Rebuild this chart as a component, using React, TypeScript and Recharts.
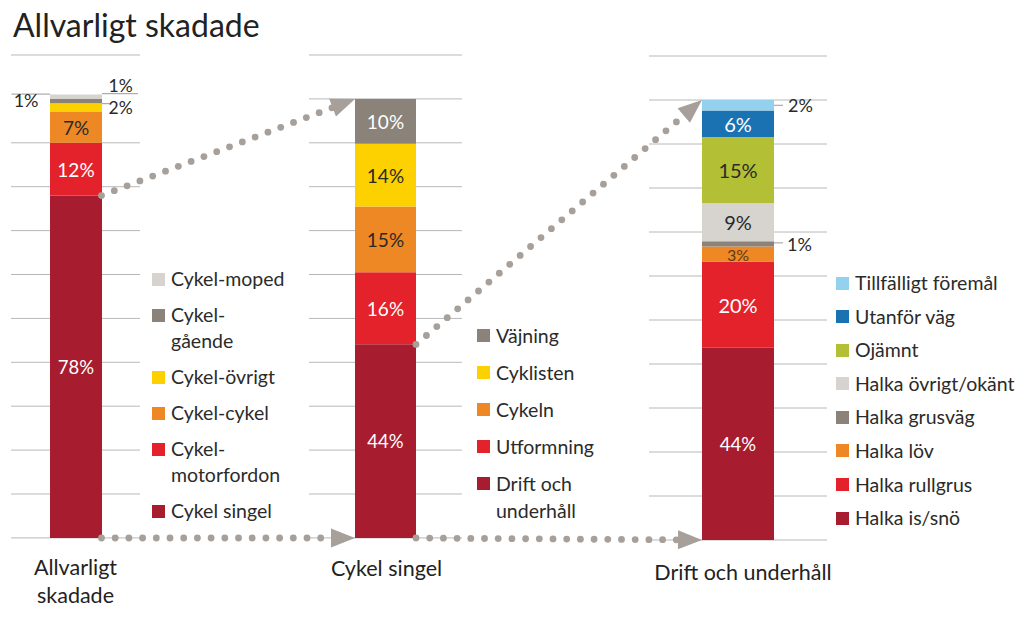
import React from 'react';
import { BarChart, Bar, XAxis, YAxis, CartesianGrid, LabelList } from 'recharts';

const FONT = 'Lato, "Open Sans", "DejaVu Sans", sans-serif';

// ---------- DATA ----------
const title = 'Allvarligt skadade';

// Bar 1
const category1 = 'Allvarligt\nskadade';
const series1 = ['Cykel singel', 'Cykel-motorfordon', 'Cykel-cykel', 'Cykel-övrigt', 'Cykel-gående', 'Cykel-moped'];
const values1 = [78, 12, 7, 2, 1, 1];
const legend1 = ['Cykel singel', 'Cykel-\nmotorfordon', 'Cykel-cykel', 'Cykel-övrigt', 'Cykel-\ngående', 'Cykel-moped'];

// Bar 2
const category2 = 'Cykel singel';
const series2 = ['Drift och underhåll', 'Utformning', 'Cykeln', 'Cyklisten', 'Väjning'];
const values2 = [44.1, 16.4, 15.0, 14.3, 10.2];
const legend2 = ['Drift och\nunderhåll', 'Utformning', 'Cykeln', 'Cyklisten', 'Väjning'];

// Bar 3
const category3 = 'Drift och underhåll';
const series3 = ['Halka is/snö', 'Halka rullgrus', 'Halka löv', 'Halka grusväg', 'Halka övrigt/okänt', 'Ojämnt', 'Utanför väg', 'Tillfälligt föremål'];
const values3 = [43.7, 19.6, 3.4, 1.2, 8.7, 15.0, 6.0, 2.4];
const legend3 = ['Halka is/snö', 'Halka rullgrus', 'Halka löv', 'Halka grusväg', 'Halka övrigt/okänt', 'Ojämnt', 'Utanför väg', 'Tillfälligt föremål'];

const gridTicks1 = [0, 10, 20, 30, 40, 50, 60, 70, 80, 90];
const gridTicks = [0, 10, 20, 30, 40, 50, 60, 70, 80, 90, 100];

// ---------- STYLES ----------
const C = {
  darkRed: '#a71d2f',
  red: '#e3222b',
  orange: '#ee8824',
  yellow: '#fdd100',
  gray: '#8b827a',
  lightGray: '#d7d3ce',
  lightBlue: '#93d1ef',
  blue: '#1a72b3',
  olive: '#b3bf35',
};
const colors1 = [C.darkRed, C.red, C.orange, C.yellow, C.gray, C.lightGray];
const colors2 = [C.darkRed, C.red, C.orange, C.yellow, C.gray];
const colors3 = [C.darkRed, C.red, C.orange, C.gray, C.lightGray, C.olive, C.blue, C.lightBlue];

type LabelCfg = { fill?: string; size?: number; side?: 'left' | 'right'; leader?: number; ldy?: number; tdx?: number; tdy?: number };
const W = '#ffffff';
const D = '#2a2a2a';
const labels1: LabelCfg[] = [
  { fill: W, size: 18.5 },
  { fill: W, size: 19 },
  { fill: D, size: 19 },
  { side: 'right', leader: 9, ldy: -4, tdx: 6.5, tdy: 0.2, size: 17.5 },
  { side: 'left', leader: 38.5, ldy: -7, tdx: 11.5, tdy: -1, size: 18 },
  { side: 'right', leader: 36, ldy: -3, tdx: 6.5, tdy: -10.8, size: 17.5 },
];
const labels2: LabelCfg[] = [
  { fill: W, size: 18.5 },
  { fill: W, size: 19 },
  { fill: D, size: 19 },
  { fill: D, size: 19 },
  { fill: W, size: 19 },
];
const labels3: LabelCfg[] = [
  { fill: W, size: 18.5 },
  { fill: W, size: 20 },
  { fill: '#5a3a1c', size: 16 },
  { side: 'right', leader: 9, ldy: -1, tdx: 13, tdy: 0, size: 18 },
  { fill: D, size: 20 },
  { fill: D, size: 20 },
  { fill: W, size: 20 },
  { side: 'right', leader: 9, ldy: 0, tdx: 14, tdy: 0, size: 18 },
];

const DOMAIN_MAX = 110;

type Panel = {
  key: string;
  category: string;
  series: string[];
  values: number[];
  legend: string[];
  colors: string[];
  labels: LabelCfg[];
  ticks: number[];
  left: number; top: number; width: number; height: number; barSize: number;
  legendLeft: number; legendTop: number; lineH: number; gap: number;
  catTop: number; catDx: number;
};

const panels: Panel[] = [
  {
    key: 'p1', category: category1, series: series1, values: values1, legend: legend1, colors: colors1, labels: labels1, ticks: gridTicks1,
    left: 11, top: 55.1, width: 129, height: 482.9, barSize: 52,
    legendLeft: 152, legendTop: 266, lineH: 26, gap: 10, catTop: 553, catDx: 0,
  },
  {
    key: 'p2', category: category2, series: series2, values: values2, legend: legend2, colors: colors2, labels: labels2, ticks: gridTicks,
    left: 309, top: 55.1, width: 153, height: 482.9, barSize: 61,
    legendLeft: 477, legendTop: 322, lineH: 27, gap: 10, catTop: 554, catDx: 1,
  },
  {
    key: 'p3', category: category3, series: series3, values: values3, legend: legend3, colors: colors3, labels: labels3, ticks: gridTicks,
    left: 649, top: 56, width: 178, height: 484, barSize: 72,
    legendLeft: 836, legendTop: 270, lineH: 26, gap: 7.6, catTop: 558, catDx: 5,
  },
];

const yPix = (p: Panel, v: number) => p.top + p.height * (1 - v / DOMAIN_MAX);
const barLeft = (p: Panel) => p.left + (p.width - p.barSize) / 2;
const barRight = (p: Panel) => barLeft(p) + p.barSize;
const total = (vals: number[]) => vals.reduce((a, b) => a + b, 0);

const makeLabel = (cfg: LabelCfg) => (props: any) => {
  const vb = props.viewBox && props.viewBox.width != null ? props.viewBox : props;
  const x = Number(vb.x), y = Number(vb.y), width = Number(vb.width), height = Number(vb.height);
  const value = Number(props.value);
  const txt = `${Math.round(value)}%`;
  const cx = x + width / 2;
  const cy = y + height / 2;
  const size = cfg.size ?? 18;
  if (!cfg.side) {
    return (
      <text x={cx} y={cy} textAnchor="middle" dominantBaseline="central" fill={cfg.fill} fontSize={size} fontFamily={FONT}>
        {txt}
      </text>
    );
  }
  const right = cfg.side === 'right';
  const edge = right ? x + width : x;
  const sgn = right ? 1 : -1;
  const ly = cy + (cfg.ldy ?? 0);
  return (
    <g>
      <line x1={edge} y1={ly} x2={edge + sgn * (cfg.leader ?? 8)} y2={ly} stroke="#9a9a9a" strokeWidth={1} />
      <text
        x={edge + sgn * (cfg.tdx ?? 8)}
        y={cy + (cfg.tdy ?? 0)}
        textAnchor={right ? 'start' : 'end'}
        dominantBaseline="central"
        fill="#2a2a2a"
        fontSize={size}
        fontFamily={FONT}
      >
        {txt}
      </text>
    </g>
  );
};

const PanelChart = ({ p }: { p: Panel }) => {
  const row: Record<string, any> = { name: p.category };
  p.series.forEach((s, i) => (row[s] = p.values[i]));
  const data = [row];
  return (
    <div style={{ position: 'absolute', left: p.left, top: p.top }}>
      <BarChart width={p.width} height={p.height} data={data} margin={{ top: 0, right: 0, bottom: 0, left: 0 }} barSize={p.barSize}>
        <CartesianGrid vertical={false} stroke="#b8b8b8" strokeWidth={1} />
        <XAxis dataKey="name" type="category" hide />
        <YAxis type="number" domain={[0, DOMAIN_MAX]} ticks={p.ticks} hide />
        {p.series.map((s, i) => (
          <Bar key={s} dataKey={s} stackId="a" fill={p.colors[i]} isAnimationActive={false}>
            <LabelList dataKey={s} content={makeLabel(p.labels[i])} />
          </Bar>
        ))}
      </BarChart>
    </div>
  );
};

const Legend = ({ p }: { p: Panel }) => {
  const items = p.legend.map((l, i) => ({ l, c: p.colors[i] })).reverse();
  return (
    <div style={{ position: 'absolute', left: p.legendLeft, top: p.legendTop, fontFamily: FONT, fontSize: 19.5, color: '#2b2b2b' }}>
      {items.map((it, i) => (
        <div key={i} style={{ display: 'flex', alignItems: 'flex-start', marginBottom: p.gap, lineHeight: `${p.lineH}px`, whiteSpace: 'nowrap' }}>
          <div style={{ width: 13, height: 13, background: it.c, marginTop: p.lineH / 2 - 6.5, marginRight: 6, flex: 'none' }} />
          <div style={{ whiteSpace: 'pre' }}>{it.l}</div>
        </div>
      ))}
    </div>
  );
};

const CategoryLabel = ({ p }: { p: Panel }) => {
  const cx = p.left + p.width / 2 + p.catDx;
  return (
    <div
      style={{
        position: 'absolute', left: cx - 120, width: 240, top: p.catTop, textAlign: 'center',
        fontFamily: FONT, fontSize: 21.5, lineHeight: '28px', color: '#222', whiteSpace: 'pre-line',
      }}
    >
      {p.category}
    </div>
  );
};

// arrows connect the top of a segment in one bar to the top of the next bar
const connections = [
  { from: 0, fromValue: values1[0], to: 1, toValue: total(values2) },
  { from: 0, fromValue: 0, to: 1, toValue: 0 },
  { from: 1, fromValue: values2[0], to: 2, toValue: total(values3) },
  { from: 1, fromValue: 0, to: 2, toValue: 0 },
];

const Arrow = ({ x1, y1, x2, y2 }: { x1: number; y1: number; x2: number; y2: number }) => {
  const dx = x2 - x1, dy = y2 - y1;
  const L = Math.hypot(dx, dy);
  const ux = dx / L, uy = dy / L;
  const headLen = 24, hw = 9.5, step = 13.7, r = 3.4;
  const dotsLen = L - headLen + 4;
  const n = Math.floor(dotsLen / step) + 1;
  const dots = [];
  for (let i = 0; i < n; i++) dots.push(<circle key={i} cx={x1 + ux * step * i} cy={y1 + uy * step * i} r={r} fill="#a7a09a" />);
  const bx = x2 - ux * headLen, by = y2 - uy * headLen;
  const pts = `${x2},${y2} ${bx - uy * hw},${by + ux * hw} ${bx + uy * hw},${by - ux * hw}`;
  return (
    <g>
      {dots}
      <polygon points={pts} fill="#a7a09a" />
    </g>
  );
};

export default function App() {
  return (
    <div style={{ position: 'absolute', left: 0, top: 0, width: 1024, height: 620, background: '#fff', overflow: 'hidden' }}>
      <style>{'svg{overflow:visible}'}</style>
      <div style={{ position: 'absolute', left: 13, top: 8.5, fontFamily: FONT, fontSize: 32, lineHeight: '32px', color: '#222' }}>{title}</div>
      {panels.map((p) => (
        <PanelChart key={p.key} p={p} />
      ))}
      {panels.map((p) => (
        <Legend key={'l' + p.key} p={p} />
      ))}
      {panels.map((p) => (
        <CategoryLabel key={'c' + p.key} p={p} />
      ))}
      <svg width={1024} height={620} style={{ position: 'absolute', left: 0, top: 0, pointerEvents: 'none' }}>
        {connections.map((c, i) => {
          const a = panels[c.from], b = panels[c.to];
          return <Arrow key={i} x1={barRight(a)} y1={yPix(a, c.fromValue)} x2={barLeft(b)} y2={yPix(b, c.toValue)} />;
        })}
      </svg>
    </div>
  );
}
